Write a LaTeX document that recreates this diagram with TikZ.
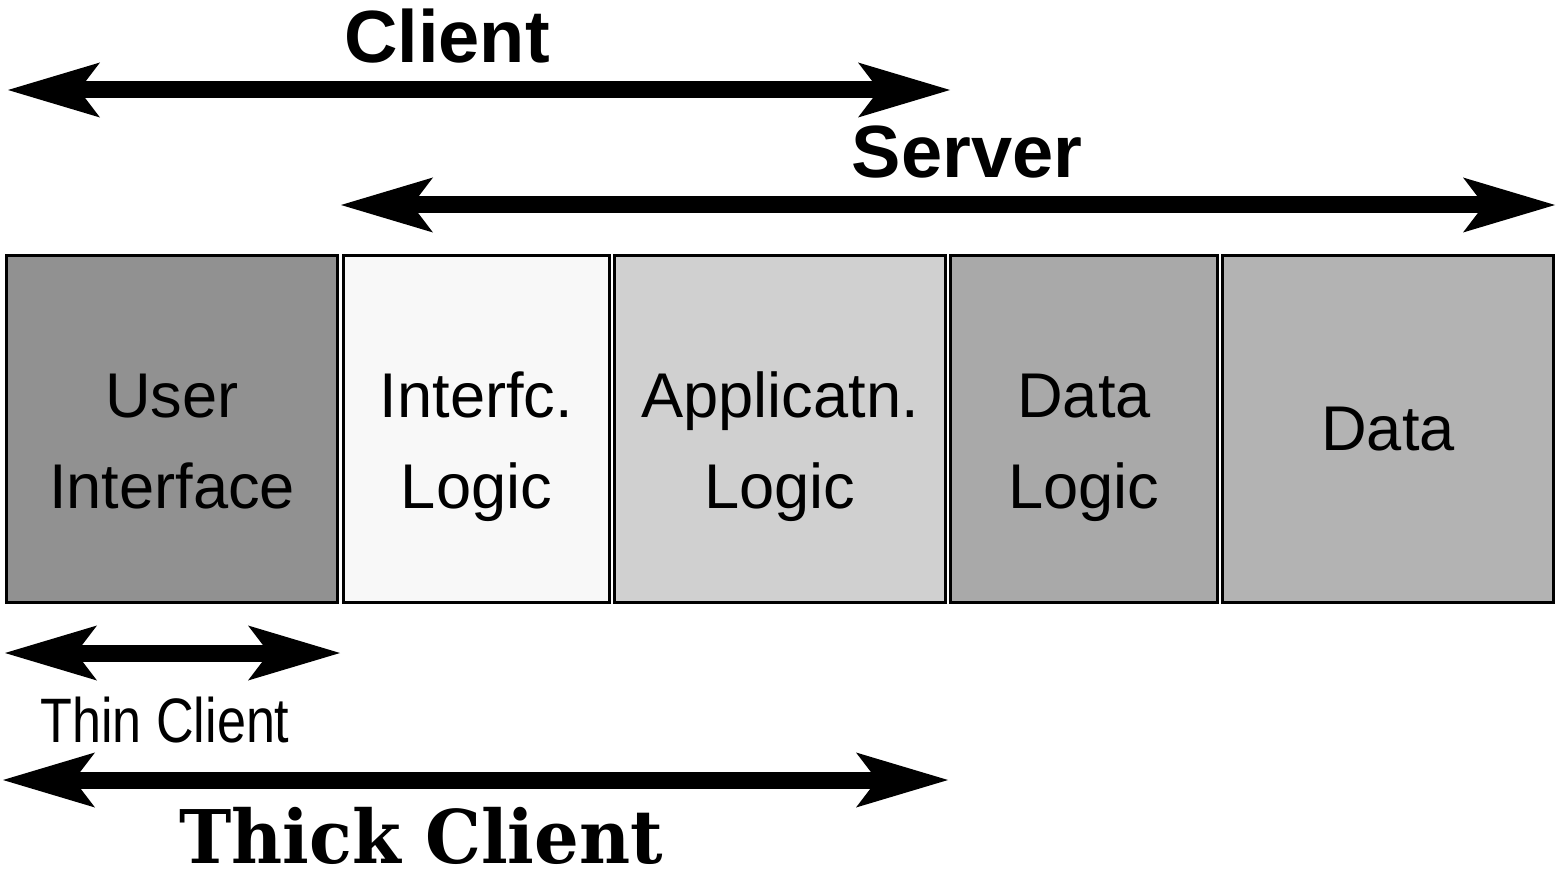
\documentclass[tikz,border=0pt]{standalone}
\usepackage{fontspec}
\usepackage{graphicx}
\setmainfont{Liberation Sans}
\newfontfamily\thickfont{DejaVu Serif}
\usetikzlibrary{arrows.meta}
\definecolor{uigray}{HTML}{919191}
\definecolor{ilgray}{HTML}{F8F8F8}
\definecolor{algray}{HTML}{D0D0D0}
\definecolor{dlgray}{HTML}{A9A9A9}
\definecolor{dagray}{HTML}{B3B3B3}

\begin{document}
\begin{tikzpicture}[x=0.5pt, y=-0.5pt,
	layer/.style={draw, line width=1.5pt, minimum height=173.5pt, inner sep=0pt, align=center, font=\fontsize{31.6}{45.5}\selectfont},
	twoline/.style={text height=79pt, text depth=0pt},
	span/.style={{Stealth[length=46pt, width=27.5pt, inset=10.5pt, line width=0pt]}-{Stealth[length=46pt, width=27.5pt, inset=10.5pt, line width=0pt]}, line width=8.5pt},
	title/.style={anchor=base, font=\fontsize{37}{37}\selectfont\bfseries}]
				\useasboundingbox (0,0) rectangle (1556,871);
				\node[layer, twoline, fill=uigray, minimum width=165.5pt] (UI)at(172, 429) {User\\Interface};
				\node[layer, twoline, fill=ilgray, minimum width=133pt] (IL)at(476.5, 429) {Interfc.\\Logic};
				\node[layer, twoline, fill=algray, minimum width=165.5pt] (AL)at(780, 429) {Applicatn.\\Logic};
				\node[layer, twoline, fill=dlgray, minimum width=133.5pt] (DL)at(1084, 429) {Data\\Logic};
				\node[layer, fill=dagray, minimum width=165.5pt] (DA)at(1388, 429) {Data};
				\coordinate (CL1)at(8, 90);
				\coordinate (CL2)at(950, 90);
				\coordinate (SV1)at(341, 205);
				\coordinate (SV2)at(1555, 205);
				\coordinate (TN1)at(5, 653);
				\coordinate (TN2)at(340, 653);
				\coordinate (TK1)at(3, 780);
				\coordinate (TK2)at(948, 780);
				\draw[span] (CL1) -- (CL2);
				\draw[span] (SV1) -- (SV2);
				\draw[span] (TN1) -- (TN2);
				\draw[span] (TK1) -- (TK2);
				\node[title] (CLT)at(447, 63) {Client};
				\node[title] (SVT)at(967, 178) {Server};
				\node[anchor=base, font=\fontsize{31.4}{31.4}\selectfont] (TNT)at(165, 742) {\scalebox{0.83}[1]{Thin Client}};
				\node[anchor=base, inner sep=0pt, font=\fontsize{37}{37}\selectfont\thickfont\bfseries] (TKT)at(421, 863) {\scalebox{0.95}[1]{Thick Client}};
			\end{tikzpicture}
\end{document}
